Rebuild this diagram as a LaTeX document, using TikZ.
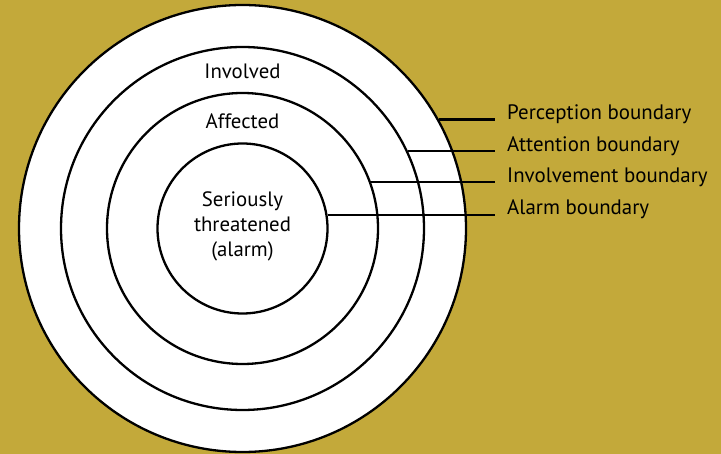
\documentclass[tikz,border=0pt]{standalone}
\usepackage{fontspec}
\setmainfont{PT Sans}
\definecolor{bggold}{RGB}{195,169,58}
\tikzset{
  ring/.style={circle, draw=black, line width=2.3pt, inner sep=0pt},
  lead/.style={draw=black, line width=2.3pt},
  lbl/.style={anchor=base west, inner sep=0pt, font=\fontsize{20.9}{25}\selectfont},
  ctext/.style={align=center, inner sep=0pt, font=\fontsize{20.8}{25}\selectfont},
}
\begin{document}
\begin{tikzpicture}[x=1pt,y=-1pt]
\useasboundingbox (0,0) rectangle (721,454);
\fill[bggold] (0,0) rectangle (721,454);
\node[ring, fill=white, minimum size=447pt] (perc) at (242.5,228.5) {};
\node[ring, minimum size=363pt] (att) at (242.5,228.5) {};
\node[ring, minimum size=271pt] (inv) at (242.5,228.5) {};
\node[ring, minimum size=170pt] (alm) at (242.5,228.5) {};
\node[ctext, anchor=base] (tinv) at (242.5,79) {Involved};
\node[ctext, anchor=base] (taff) at (242.5,129) {Affected};
\node[ctext, anchor=base] (tser) at (242.5,256.7) {Seriously\\threatened\\(alarm)};
\coordinate (e) at (495,0);
\node[lbl] (lp) at (507,119.3) {Perception boundary};
\node[lbl] (la) at (507,151.7) {Attention boundary};
\node[lbl] (li) at (507,182.7) {Involvement boundary};
\node[lbl] (ll) at (507,214.5) {Alarm boundary};
\draw[lead] (perc.29.84) -- (perc.29.84 -| e);
\draw[lead] (att.25.37) -- (att.25.37 -| e);
\draw[lead] (inv.20.27) -- (inv.20.27 -| e);
\draw[lead] (alm.9.5) -- (alm.9.5 -| e);
\end{tikzpicture}
\end{document}
